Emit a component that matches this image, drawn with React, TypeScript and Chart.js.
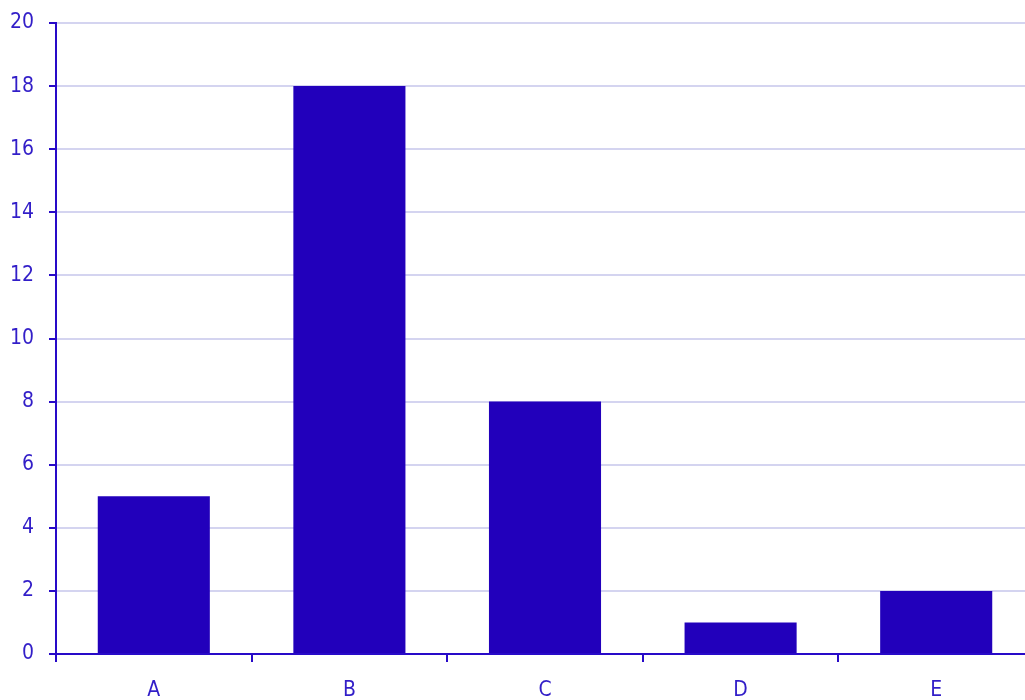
import React, { useEffect, useRef } from "react";
import { Chart, registerables } from "chart.js";

Chart.register(...registerables);

const categories = ["A", "B", "C", "D", "E"];
const values = [5, 18, 8, 1, 2];
const yMin = 0;
const yMax = 20;
const yStep = 2;

const BAR = "rgb(34,0,187)";
const AXIS = "rgb(40,10,200)";
const GRID = "rgb(212,212,240)";
const TEXT = "rgb(50,30,200)";
const FONT = "'Liberation Sans Narrow', 'DejaVu Sans Condensed', sans-serif";

export default function App() {
  const ref = useRef<HTMLCanvasElement | null>(null);
  useEffect(() => {
    if (!ref.current) return;
    const chart = new Chart(ref.current, {
      type: "bar",
      data: {
        labels: categories,
        datasets: [
          {
            data: values,
            backgroundColor: BAR,
            borderWidth: 0,
            barPercentage: 0.573,
            categoryPercentage: 1,
          },
        ],
      },
      options: {
        animation: false,
        responsive: false,
        maintainAspectRatio: false,
        layout: { padding: { top: 23, right: 6, left: 0, bottom: 0 } },
        plugins: { legend: { display: false }, tooltip: { enabled: false } },
        scales: {
          x: {
            grid: {
              offset: true,
              drawOnChartArea: false,
              tickLength: 8,
              tickColor: AXIS,
              lineWidth: 2,
              tickWidth: 2,
            },
            border: { color: AXIS, width: 2 },
            ticks: { color: TEXT, font: { family: FONT, size: 21 }, padding: 16 },
            afterFit: (s: any) => {
              s.height = 46;
              s.paddingLeft = 0;
              s.paddingRight = 0;
            },
          },
          y: {
            min: yMin,
            max: yMax,
            grid: {
              color: GRID,
              lineWidth: 2,
              tickLength: 7,
              tickColor: AXIS,
              tickWidth: 2,
            },
            border: { color: AXIS, width: 2 },
            ticks: {
              stepSize: yStep,
              color: TEXT,
              font: { family: FONT, size: 21 },
              padding: 15,
            },
            afterFit: (s: any) => {
              s.width = 56;
              s.paddingTop = 0;
              s.paddingBottom = 0;
            },
          },
        },
      },
    });
    return () => chart.destroy();
  }, []);
  return (
    <div
      style={{
        position: "fixed",
        left: 0,
        top: 0,
        width: 1025,
        height: 700,
        overflow: "hidden",
        background: "#fff",
      }}
    >
      <canvas ref={ref} width={1040} height={700} style={{ display: "block" }} />
    </div>
  );
}
